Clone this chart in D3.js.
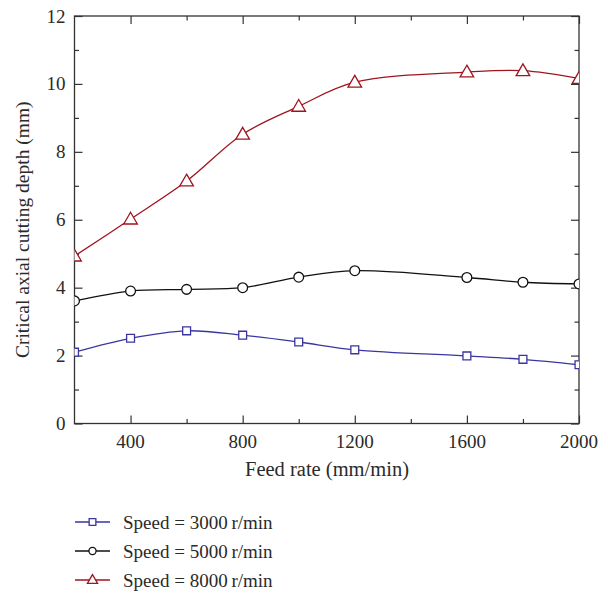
<!DOCTYPE html>
<html><head><meta charset="utf-8">
<script src="https://cdn.jsdelivr.net/npm/d3@7"></script>
<style>body{margin:0;background:#fff}svg{display:block}</style>
</head><body>
<svg id="c" width="608" height="594"></svg>
<script>
const feedRates = [200, 400, 600, 800, 1000, 1200, 1600, 1800, 2000];
const speed3000 = [2.10, 2.51, 2.73, 2.60, 2.40, 2.17, 1.99, 1.89, 1.73];
const speed5000 = [3.61, 3.90, 3.95, 4.00, 4.31, 4.50, 4.30, 4.16, 4.11];
const speed8000 = [4.93, 6.02, 7.14, 8.52, 9.34, 10.05, 10.35, 10.39, 10.16];
const seriesNames = ["Speed = 3000\u2009r/min", "Speed = 5000\u2009r/min", "Speed = 8000\u2009r/min"];
const xMajorTicks = [400, 800, 1200, 1600, 2000];
const xMinorTicks = [600, 1000, 1400, 1800];
const yMajorTicks = [0, 2, 4, 6, 8, 10, 12];
const yMinorTicks = [1, 3, 5, 7, 9, 11];

const font = "'Liberation Serif', 'DejaVu Serif', serif";
const svg = d3.select("#c");
const L = 74.5, R = 579, T = 16, B = 423.5;
const x = d3.scaleLinear().domain([200, 2000]).range([L, R]);
const y = d3.scaleLinear().domain([0, 12]).range([B, T]);
const axColor = "#333";
const txt = "#2a2a2a";

svg.append("rect").attr("x", L).attr("y", T).attr("width", R - L).attr("height", B - T)
  .attr("fill", "none").attr("stroke", axColor).attr("stroke-width", 1.3);

function ticks(g) { g.select(".domain").remove(); g.selectAll("line").attr("stroke", axColor).attr("stroke-width", 1.2); g.selectAll("text").remove(); }
svg.append("g").attr("transform", `translate(0,${B})`).call(d3.axisBottom(x).tickValues(xMajorTicks).tickSize(-8)).call(ticks);
svg.append("g").attr("transform", `translate(0,${B})`).call(d3.axisBottom(x).tickValues(xMinorTicks).tickSize(-4.5)).call(ticks);
svg.append("g").attr("transform", `translate(0,${T})`).call(d3.axisTop(x).tickValues(xMajorTicks).tickSize(-8)).call(ticks);
svg.append("g").attr("transform", `translate(0,${T})`).call(d3.axisTop(x).tickValues(xMinorTicks).tickSize(-4.5)).call(ticks);
svg.append("g").attr("transform", `translate(${L},0)`).call(d3.axisLeft(y).tickValues(yMajorTicks).tickSize(-8)).call(ticks);
svg.append("g").attr("transform", `translate(${L},0)`).call(d3.axisLeft(y).tickValues(yMinorTicks).tickSize(-4.5)).call(ticks);
svg.append("g").attr("transform", `translate(${R},0)`).call(d3.axisRight(y).tickValues(yMajorTicks).tickSize(-8)).call(ticks);
svg.append("g").attr("transform", `translate(${R},0)`).call(d3.axisRight(y).tickValues(yMinorTicks).tickSize(-4.5)).call(ticks);

svg.append("g").selectAll("text").data(xMajorTicks).join("text")
  .attr("x", d => x(d)).attr("y", B + 24).attr("text-anchor", "middle")
  .attr("font-family", font).attr("font-size", 19).attr("fill", txt).text(d => d);
svg.append("g").selectAll("text").data(yMajorTicks).join("text")
  .attr("x", L - 9).attr("y", d => y(d) + 6.5).attr("text-anchor", "end")
  .attr("font-family", font).attr("font-size", 19).attr("fill", txt).text(d => d);

svg.append("text").attr("x", 327).attr("y", 476).attr("text-anchor", "middle")
  .attr("font-family", font).attr("font-size", 20.5).attr("fill", txt).text("Feed rate (mm/min)");
svg.append("text").attr("transform", `translate(29,${(T + B) / 2 + 10}) rotate(-90)`).attr("text-anchor", "middle")
  .attr("font-family", font).attr("font-size", 19.5).attr("fill", txt).text("Critical axial cutting depth (mm)");

const colors = ["#3a35a0", "#111", "#a0141f"];
const shapes = [d3.symbolSquare, d3.symbolCircle, d3.symbolTriangle];
const sizes = [62, 75, 80];
const data = [speed3000, speed5000, speed8000];

const line = d3.line().x(d => x(d[0])).y(d => y(d[1])).curve(d3.curveCatmullRom.alpha(0.5));
svg.append("clipPath").attr("id", "clp").append("rect").attr("x", L).attr("y", T).attr("width", R - L).attr("height", B - T);

data.forEach((vals, i) => {
  const pts = feedRates.map((f, j) => [f, vals[j]]);
  svg.append("path").attr("d", line(pts)).attr("fill", "none").attr("stroke", colors[i]).attr("stroke-width", 1.3).attr("clip-path", "url(#clp)");
  const sym = d3.symbol().type(shapes[i]).size(sizes[i]);
  svg.append("g").attr("clip-path", "url(#clp)").selectAll("path").data(pts).join("path")
    .attr("d", sym).attr("transform", d => `translate(${x(d[0])},${y(d[1]) + (i === 2 ? 1 : 0)})`)
    .attr("fill", "#fff").attr("stroke", colors[i]).attr("stroke-width", 1.3);
});

const legY = [522, 551, 580];
data.forEach((vals, i) => {
  const g = svg.append("g").attr("transform", `translate(0,${legY[i]})`);
  g.append("line").attr("x1", 75).attr("x2", 110).attr("y1", 0).attr("y2", 0).attr("stroke", colors[i]).attr("stroke-width", 1.3);
  g.append("path").attr("d", d3.symbol().type(shapes[i]).size(i === 1 ? 40 : 45)).attr("transform", `translate(92.5,${i === 2 ? 0.5 : 0})`)
    .attr("fill", "#fff").attr("stroke", colors[i]).attr("stroke-width", 1.3);
  g.append("text").attr("x", 123).attr("y", 6.5).attr("font-family", font).attr("font-size", 19).attr("fill", txt).text(seriesNames[i]);
});
</script>
</body></html>
